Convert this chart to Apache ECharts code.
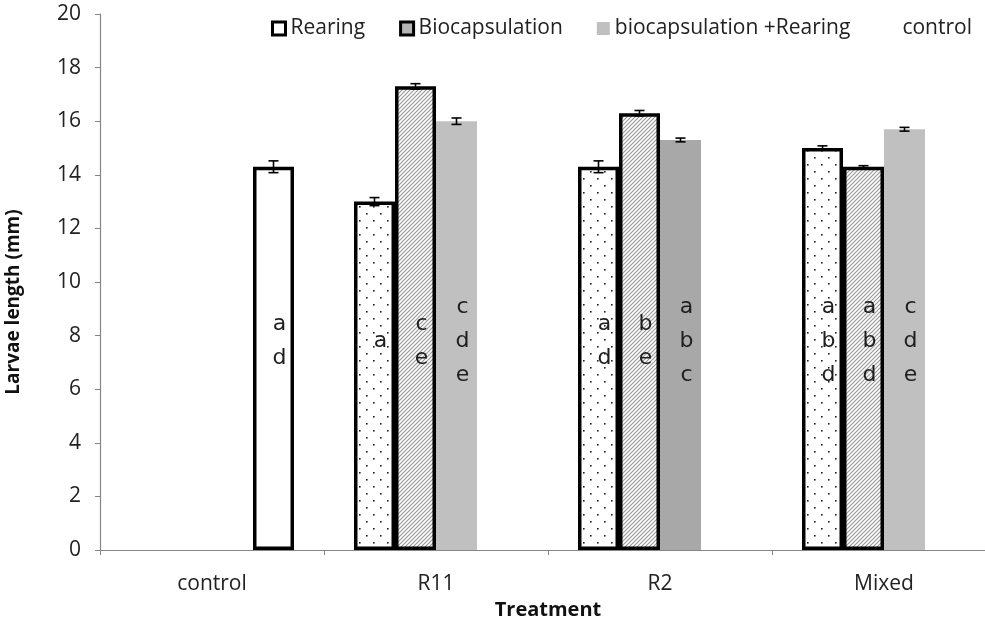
<!DOCTYPE html>
<html>
<head>
<meta charset="utf-8">
<title>Larvae length</title>
<script src="https://cdn.jsdelivr.net/npm/echarts@6.0.0/dist/echarts.min.js"></script>
<style>
  html, body { margin: 0; padding: 0; background: #fff; }
  #container { width: 985px; height: 623px; }
</style>
</head>
<body>
<div id="container"></div>
<script type="text/javascript">
    // data
    var categories = ['control', 'R11', 'R2', 'Mixed'];

    var rearing = [null, 13.0, 14.3, 15.0];
    var rearingErr = [null, 0.15, 0.22, 0.08];
    var rearingLetters = ['', 'a', 'a\nd', 'a\nb\nd'];

    var biocap = [null, 17.3, 16.3, 14.3];
    var biocapErr = [null, 0.1, 0.1, 0.04];
    var biocapLetters = ['', 'c\ne', 'b\ne', 'a\nb\nd'];

    var bioRear = [null, 16.0, 15.3, 15.7];
    var bioRearErr = [null, 0.12, 0.07, 0.07];
    var bioRearLetters = ['', 'c\nd\ne', 'a\nb\nc', 'c\nd\ne'];

    var control = [14.3, null, null, null];
    var controlErr = [0.22, null, null, null];
    var controlLetters = ['a\nd', '', '', ''];

    var yTicks = { min: 0, max: 20, interval: 2 };

    /* fill patterns */
    function dotTile() {
        var c = document.createElement('canvas');
        c.width = 14; c.height = 14;
        var g = c.getContext('2d');
        g.fillStyle = '#fff';
        g.fillRect(0, 0, 14, 14);
        g.fillStyle = '#222';
        g.fillRect(2, 3, 1.6, 1.6);
        g.fillRect(9, 10, 1.6, 1.6);
        return c;
    }
    function hatchTile() {
        var c = document.createElement('canvas');
        c.width = 4; c.height = 4;
        var g = c.getContext('2d');
        g.fillStyle = '#fff';
        g.fillRect(0, 0, 4, 4);
        g.strokeStyle = '#999';
        g.lineWidth = 1.2;
        g.beginPath();
        g.moveTo(-1, 5); g.lineTo(5, -1);
        g.moveTo(-1, 1); g.lineTo(1, -1);
        g.moveTo(3, 5); g.lineTo(5, 3);
        g.stroke();
        return c;
    }

    var BAR_W = 41;
    var font = 'Open Sans';

    function errSeries(name, values, errs, letters, slot) {
        var data = [];
        values.forEach(function (v, i) {
            if (v != null) data.push([i, v, errs[i]]);
        });
        return {
            name: name + ' err',
            type: 'custom',
            z: 5,
            silent: true,
            data: data,
            renderItem: function (params, api) {
                var ci = api.value(0), v = api.value(1), e = api.value(2);
                var off = (slot - 1.5) * BAR_W;
                var hi = api.coord([ci, v + e]);
                var lo = api.coord([ci, v - e]);
                var x = hi[0] + off;
                var ly = api.coord([ci, 7.8])[1];
                var st = { stroke: '#000', lineWidth: 1.6 };
                return {
                    type: 'group',
                    children: [
                        { type: 'line', shape: { x1: x, y1: hi[1], x2: x, y2: lo[1] }, style: st },
                        { type: 'line', shape: { x1: x - 5, y1: hi[1], x2: x + 5, y2: hi[1] }, style: st },
                        { type: 'line', shape: { x1: x - 5, y1: lo[1], x2: x + 5, y2: lo[1] }, style: st },
                        {
                            type: 'text',
                            style: {
                                text: letters[ci], x: x + 6, y: ly,
                                align: 'center', verticalAlign: 'middle',
                                fontFamily: 'DejaVu Sans', fontSize: 22, lineHeight: 34,
                                fill: '#1e1e1e'
                            }
                        }
                    ]
                };
            }
        };
    }

    var dom = document.getElementById('container');
    var myChart = echarts.init(dom, null, { renderer: 'canvas' });

    var dots = { image: dotTile(), repeat: 'repeat' };
    var hatch = { image: hatchTile(), repeat: 'repeat' };

    var option = {
        animation: false,
        legend: {
            left: 266,
            top: 13,
            itemWidth: 13,
            itemHeight: 13,
            itemGap: 34,
            selectedMode: false,
            textStyle: { fontFamily: font, fontSize: 21, color: '#222' },
            data: [
                { name: 'Rearing', icon: 'rect', itemStyle: { color: '#fff', borderColor: '#000', borderWidth: 3 } },
                { name: 'Biocapsulation', icon: 'rect', itemStyle: { color: '#b5b5b5', borderColor: '#000', borderWidth: 3 } },
                { name: 'biocapsulation +Rearing', icon: 'rect', itemStyle: { color: '#c0c0c0', borderWidth: 0 } },
                { name: 'control', icon: 'rect', itemStyle: { color: 'rgba(0,0,0,0)', borderWidth: 0 } }
            ]
        },
        grid: {
            left: 100,
            top: 14,
            bottom: 73,
            width: 896,
            outerBoundsMode: 'none'
        },
        xAxis: {
            type: 'category',
            data: categories,
            axisLine: { lineStyle: { color: '#868686', width: 1.2 } },
            axisTick: { show: true, alignWithLabel: false, length: 5, lineStyle: { color: '#868686' } },
            axisLabel: { interval: 0, fontFamily: font, fontSize: 21, color: '#222', margin: 24 },
            name: 'Treatment',
            nameLocation: 'middle',
            nameGap: 50,
            nameTextStyle: { fontFamily: font, fontSize: 20, fontWeight: 'bold', color: '#111' }
        },
        yAxis: {
            type: 'value',
            min: yTicks.min,
            max: yTicks.max,
            interval: yTicks.interval,
            axisLine: { show: true, lineStyle: { color: '#868686', width: 1.2 } },
            axisTick: { show: true, length: 5, lineStyle: { color: '#868686' } },
            splitLine: { show: false },
            axisLabel: { fontFamily: font, fontSize: 21, color: '#222', margin: 19 },
            name: 'Larvae length (mm)',
            nameLocation: 'middle',
            nameGap: 77,
            nameTextStyle: { fontFamily: font, fontSize: 19, fontWeight: 'bold', color: '#111', padding: [0, 40, 0, 0] }
        },
        series: [
            {
                name: 'Rearing', type: 'bar', barWidth: BAR_W, barGap: '0%',
                data: rearing,
                itemStyle: { color: dots, borderColor: '#000', borderWidth: 3.5 }
            },
            {
                name: 'Biocapsulation', type: 'bar', barWidth: BAR_W, barGap: '0%',
                data: biocap,
                itemStyle: { color: hatch, borderColor: '#000', borderWidth: 3.5 }
            },
            {
                name: 'biocapsulation +Rearing', type: 'bar', barWidth: BAR_W, barGap: '0%',
                data: bioRear.map(function (v, i) {
                    return { value: v, itemStyle: { color: i === 2 ? '#a8a8a8' : '#c0c0c0' } };
                }),
                itemStyle: { color: '#c0c0c0', borderWidth: 0 }
            },
            {
                name: 'control', type: 'bar', barWidth: BAR_W, barGap: '0%',
                data: control,
                itemStyle: { color: '#fff', borderColor: '#000', borderWidth: 3.5 }
            },
            errSeries('Rearing', rearing, rearingErr, rearingLetters, 0),
            errSeries('Biocapsulation', biocap, biocapErr, biocapLetters, 1),
            errSeries('biocapsulation +Rearing', bioRear, bioRearErr, bioRearLetters, 2),
            errSeries('control', control, controlErr, controlLetters, 3)
        ]
    };

    if (option && typeof option === 'object') {
        myChart.setOption(option, true);
    }
</script>
</body>
</html>
